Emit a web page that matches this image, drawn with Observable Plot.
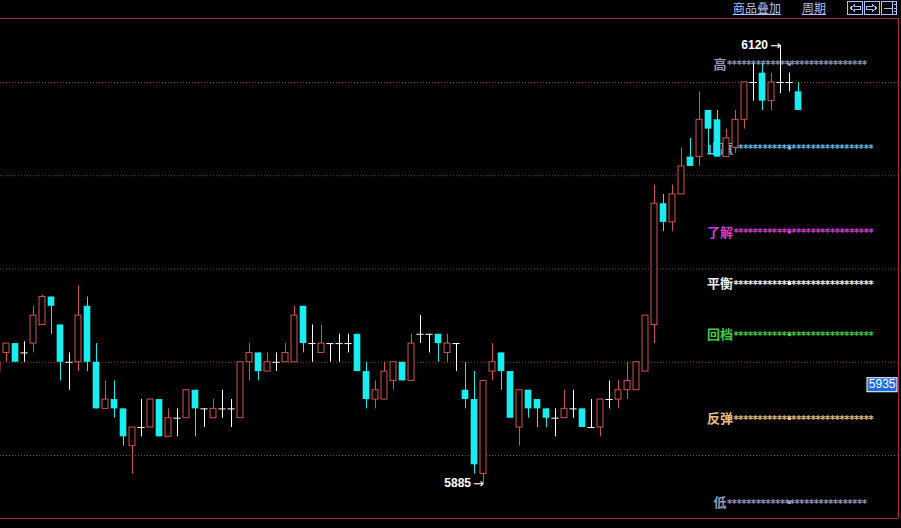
<!DOCTYPE html>
<html>
<head>
<meta charset="utf-8">
<script src="https://cdn.jsdelivr.net/npm/d3@7"></script>
<script src="https://cdn.jsdelivr.net/npm/@observablehq/plot@0.6"></script>
<style>
  html, body { margin: 0; padding: 0; background: #000; }
  #wrap { position: relative; width: 901px; height: 528px; overflow: hidden; background: #000; }
  #chart { position: absolute; left: 0; top: 0; }
  #hdr { position: absolute; left: 0; top: 0; width: 901px; height: 18px; }
  .lnk { position: absolute; top: 1px; font-family: "Noto Sans CJK SC", sans-serif; font-size: 12px; line-height: 14px;
         color: #a9c1ff; text-decoration: underline; text-underline-offset: 1px; white-space: nowrap; }
</style>
</head>
<body>
<div id="wrap">
  <div id="chart"></div>
  <div id="hdr">
    <span class="lnk" style="left:733px">商品叠加</span>
    <span class="lnk" style="left:802px">周期</span>
    <svg width="54" height="17" style="position:absolute;left:846px;top:0">
      <g fill="none" stroke="#a9c1ff" stroke-width="1" shape-rendering="crispEdges">
        <rect x="1.5" y="1.5" width="15" height="13"/>
        <rect x="18.5" y="1.5" width="15" height="13"/>
        <rect x="35.5" y="1.5" width="15" height="13"/>
        <path d="M4.5,8 L8.5,4.5 L8.5,6.5 L14.5,6.5 L14.5,9.5 L8.5,9.5 L8.5,11.5 Z"/>
        <path d="M30.5,8 L26.5,4.5 L26.5,6.5 L20.5,6.5 L20.5,9.5 L26.5,9.5 L26.5,11.5 Z"/>
        <path d="M37.5,8.5 H45.5 M46.5,1.5 V14.5 M47.5,4.5 H49.5 M47.5,8.5 H49.5 M47.5,11.5 H49.5"/>
      </g>
    </svg>
  </div>
</div>
<script>
// ---- data ----
const opens  = [5945,5955,5960,5955,5960,5970,5985,5970,5950,5950,5980,5950,5925,5930,5925,5905,5915,5915,5930,5910,
                5920,5920,5935,5925,5920,5925,5925,5920,5950,5955,5945,5950,5950,5950,5980,5960,5955,5960,5960,5960,
                5965,5945,5930,5930,5940,5950,5940,5965,5965,5965,5955,5960,5935,5930,5890,5945,5955,5945,5915,5935,
                5930,5925,5920,5920,5925,5925,5915,5915,5930,5930,5935,5935,5945,5970,6035,6025,6040,6060,6060,6085,
                6080,6060,6065,6080,6100,6105,6090,6100,6100,6095];
const highs  = [5950,5960,5960,5961,5980,5986,5985,5970,5955,5991,5985,5960,5940,5940,5925,5915,5930,5930,5930,5925,
                5925,5935,5935,5925,5930,5935,5930,5950,5960,5955,5955,5955,5960,5980,5980,5970,5970,5960,5965,5965,
                5965,5950,5940,5950,5950,5950,5965,5975,5965,5965,5965,5960,5950,5945,5940,5960,5955,5945,5935,5935,
                5930,5925,5925,5935,5935,5925,5930,5930,5940,5940,5950,5950,5975,6045,6040,6045,6065,6070,6095,6085,
                6085,6075,6085,6100,6110,6110,6105,6120,6105,6100];
const lows   = [5945,5950,5950,5950,5955,5970,5965,5940,5935,5945,5945,5925,5925,5920,5905,5890,5910,5915,5910,5910,
                5910,5920,5910,5915,5920,5920,5915,5920,5940,5940,5945,5945,5950,5950,5955,5950,5955,5950,5950,5955,
                5945,5925,5925,5930,5935,5940,5940,5960,5955,5950,5950,5945,5925,5890,5885,5940,5935,5920,5905,5920,
                5915,5915,5910,5920,5920,5915,5915,5910,5925,5925,5930,5935,5945,5960,6020,6020,6040,6055,6055,6062,
                6060,6060,6062,6075,6090,6085,6085,6094,6095,6085];
const closes = [5950,5960,5950,5955,5975,5985,5980,5950,5950,5975,5950,5925,5930,5925,5910,5915,5915,5930,5910,5920,
                5920,5935,5925,5925,5925,5925,5925,5950,5955,5945,5950,5950,5955,5975,5960,5960,5960,5960,5960,5960,
                5945,5930,5935,5945,5950,5940,5960,5965,5965,5960,5960,5960,5930,5895,5940,5950,5945,5920,5935,5925,
                5925,5920,5920,5925,5925,5915,5915,5930,5930,5935,5940,5950,5975,6035,6025,6040,6055,6055,6080,6075,
                6060,6070,6080,6100,6100,6090,6100,6100,6100,6085];

const gridLevels  = [6100, 6050, 6000, 5950, 5900];
const levelNames  = ["高", "止赢", "了解", "平衡", "回档", "反弹", "低"];
const levelValues = [6120, 6075, 6030, 6002.5, 5975, 5930, 5885];
const extremes = [{value: 6120, bar: 87}, {value: 5885, bar: 54}];
const lastPrice = 5935;

// ---- styles ----
const RED = "#d2524e", CYAN = "#16eef0", FRAME = "#a8283c", GRID = "#8c3a2c";
const LEVEL_COLOR = {"高": "#8e9ab8", "止赢": "#62bce8", "了解": "#d23ed2", "平衡": "#f2f2f2",
                     "回档": "#40cc40", "反弹": "#e8c07e", "低": "#8e9ab8"};
const xDomain = [1/3, 901/9];
const yDomain = [5866.22, 6134.32];
const LEVEL_BAR = 88;              // bar the level lines are centred on
const STAR_W = 139, CJK_W = 13;    // pixel widths of the star run / one CJK glyph
const PX = 9;                      // pixels per bar

const candles = opens.map((o, i) => ({i, open: o, high: highs[i], low: lows[i], close: closes[i]}));
const up = candles.filter(d => d.close > d.open);
const down = candles.filter(d => d.close < d.open);
const flat = candles.filter(d => d.close === d.open);
const levels = levelNames.map((name, k) => ({name, value: levelValues[k],
  x: LEVEL_BAR + (CJK_W * name.length - STAR_W) / 2 / PX}));
const stars = "*".repeat(29);

const plot = Plot.plot({
  width: 901, height: 528,
  marginTop: 18, marginBottom: 10, marginLeft: 0, marginRight: 3,
  x: {type: "linear", domain: xDomain, axis: null},
  y: {type: "linear", domain: yDomain, axis: null},
  style: {background: "#000", color: "#fff", fontFamily: "Liberation Sans, DejaVu Sans, sans-serif"},
  marks: [
    Plot.ruleY(gridLevels, {stroke: GRID, strokeDasharray: "1,2"}),
    Plot.ruleY(yDomain, {stroke: FRAME}),
    Plot.ruleX([xDomain[1]], {stroke: FRAME}),
    // level lines
    Plot.text(levels, {x: "x", y: "value", text: "name", textAnchor: "end", lineAnchor: "middle", dy: 19.5,
      fill: d => LEVEL_COLOR[d.name], fontSize: 13, fontWeight: "bold", fontFamily: "Noto Sans CJK SC"}),
    Plot.text(levels, {x: "x", y: "value", text: () => stars, textAnchor: "start", lineAnchor: "middle", dy: 20,
      fill: d => LEVEL_COLOR[d.name], fontSize: 10, fontWeight: "bold", fontFamily: "DejaVu Sans Mono"}),
    Plot.dot(levels, {x: () => LEVEL_BAR, y: "value", dy: 19, symbol: "square", r: 1.7,
      fill: d => LEVEL_COLOR[d.name], stroke: null}),
    // candles
    Plot.ruleX(up,   {x: "i", y1: "low", y2: "high", stroke: RED}),
    Plot.ruleX(down, {x: "i", y1: "low", y2: "high", stroke: CYAN}),
    Plot.ruleX(flat, {x: "i", y1: "low", y2: "high", stroke: "#fff"}),
    Plot.rect(up,   {x1: d => d.i - 0.33, x2: d => d.i + 0.33, y1: "open", y2: "close", fill: "#000", stroke: RED}),
    Plot.rect(down, {x1: d => d.i - 0.37, x2: d => d.i + 0.37, y1: "open", y2: "close", fill: CYAN}),
    Plot.ruleY(flat, {x1: d => d.i - 0.4, x2: d => d.i + 0.4, y: "close", stroke: "#fff"}),
    // extreme annotations: number + arrow
    Plot.text(extremes, {x: "bar", y: "value", text: d => String(d.value), textAnchor: "end", dx: -12.5,
      lineAnchor: "middle", fill: "#fff", fontSize: 12, fontWeight: "bold"}),
    Plot.text(extremes, {x: "bar", y: "value", text: () => "→", textAnchor: "end", dx: 0.5, dy: 0.5,
      lineAnchor: "middle", fill: "#fff", fontSize: 13, fontFamily: "DejaVu Sans"}),
    Plot.text([lastPrice], {x: () => xDomain[1], y: d => d, text: d => String(d), textAnchor: "end", dx: -3, dy: -2,
      lineAnchor: "bottom", fill: "#fff", fontSize: 12})
  ]
});
document.getElementById("chart").appendChild(plot);
plot.style.overflow = "hidden";

// star runs: tighten letter spacing so 29 stars span the reference width
for (const t of plot.querySelectorAll("text")) {
  if (t.textContent === stars) t.setAttribute("letter-spacing", "-1.2");
}
// blue box behind the last price tag
for (const t of plot.querySelectorAll("text")) {
  if (t.textContent !== String(lastPrice)) continue;
  const b = t.getBBox();
  const r = document.createElementNS("http://www.w3.org/2000/svg", "rect");
  r.setAttribute("x", Math.round(b.x) - 1.5);
  r.setAttribute("y", Math.round(b.y) + 0.5);
  r.setAttribute("width", Math.round(b.width) + 3);
  r.setAttribute("height", Math.round(b.height));
  r.setAttribute("fill", "#1d6ee2");
  r.setAttribute("stroke", "#fff");
  const tr = t.getAttribute("transform");
  if (tr) r.setAttribute("transform", tr);
  t.parentNode.insertBefore(r, t);
}
</script>
</body>
</html>
